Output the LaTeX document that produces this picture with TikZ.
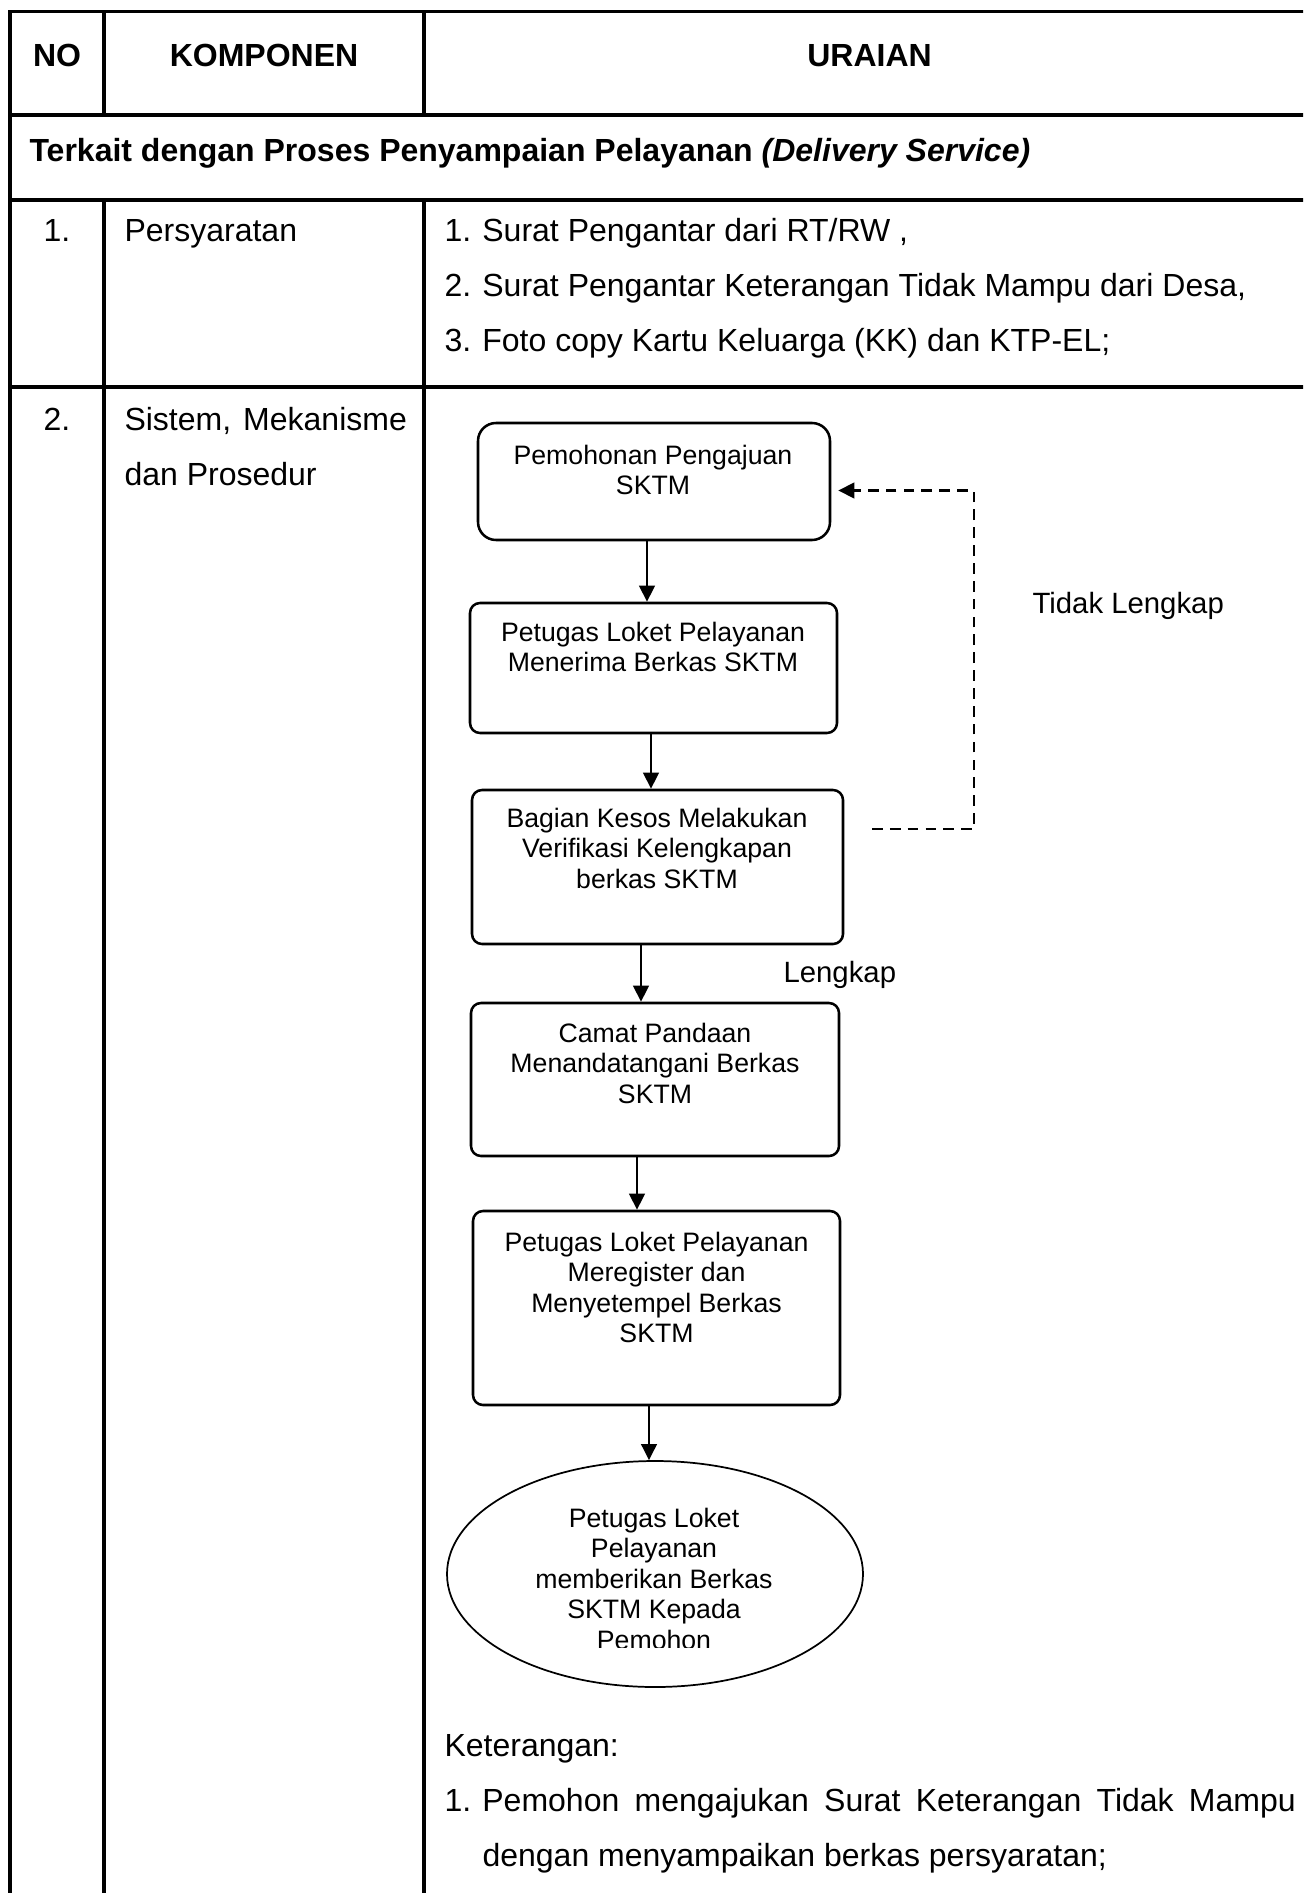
\documentclass[tikz,border=0pt]{standalone}
\usepackage{fontspec}
\setmainfont{Liberation Sans}
\usetikzlibrary{arrows.meta,shapes.geometric,calc}

\begin{document}
\begin{tikzpicture}[x=0.375pt,y=-0.375pt,
  grid/.style={line width=1.15pt},
  body/.style={inner sep=0pt,anchor=base west,font=\fontsize{12}{14}\selectfont},
  bodyc/.style={inner sep=0pt,anchor=base,font=\fontsize{12}{14}\selectfont},
  headtext/.style={inner sep=0pt,anchor=base,font=\fontsize{12}{14}\selectfont\bfseries},
  stepbox/.style={draw,line width=0.95pt,rounded corners=3.75pt,inner sep=0pt},
  endoval/.style={draw,ellipse,line width=0.65pt,inner sep=0pt},
  flowtext/.style={inner sep=0pt,anchor=north,align=center,font=\fontsize{10}{11.45}\selectfont},
  flowlabel/.style={inner sep=0pt,anchor=base west,font=\fontsize{11}{13}\selectfont},
  flow/.style={line width=0.95pt,-{Triangle[length=6pt,width=5.8pt]}},
  feedback/.style={line width=0.95pt,dash pattern=on 4pt off 2.7pt,-{Triangle[length=6pt,width=5.8pt]}}]

% page area
\useasboundingbox (0,0) rectangle (1303,1893);
\fill[white] (0,0) rectangle (1303,1893);
\clip (0,0) rectangle (1303,1893);

% ---- table rules ----
\draw[grid] (10,1900) -- (10,11.7) -- (1320,11.7);
\draw[grid] (10,115) -- (1320,115);
\draw[grid] (10,200) -- (1320,200);
\draw[grid] (10,387) -- (1320,387);
\draw[grid] (1315,11.7) -- (1315,1900);
\draw[grid] (104,11.7) -- (104,115);
\draw[grid] (424,11.7) -- (424,115);
\draw[grid] (104,200) -- (104,1900);
\draw[grid] (424,200) -- (424,1900);

% ---- header ----
\node[headtext] (hno) at (57,67) {NO};
\node[headtext] (hkomp) at (264,67) {KOMPONEN};
\node[headtext] (hurai) at (869.5,67) {URAIAN};
\node[inner sep=0pt,anchor=base west,font=\fontsize{12}{14}\selectfont\bfseries] (section) at (29,162)
  {Terkait dengan Proses Penyampaian Pelayanan \textit{(Delivery Service)}};

% ---- row 1 ----
\node[bodyc] (no1) at (57,242) {1.};
\node[body] (komp1) at (124,242) {Persyaratan};
\node[body] (req1) at (444,242) {\makebox[14.2pt][l]{1.}Surat Pengantar dari RT/RW ,};
\node[body] (req2) at (444,297) {\makebox[14.2pt][l]{2.}Surat Pengantar Keterangan Tidak Mampu dari Desa,};
\node[body] (req3) at (444,352) {\makebox[14.2pt][l]{3.}Foto copy Kartu Keluarga (KK) dan KTP-EL;};

% ---- row 2 ----
\node[bodyc] (no2) at (57,430.5) {2.};
\node[body] (komp2a) at (124,430.5) {Sistem,\hspace{4.5pt}Mekanisme};
\node[body] (komp2b) at (124,485) {dan Prosedur};

% ---- flowchart boxes ----
\node[stepbox,rounded corners=6.75pt,minimum width=132pt,minimum height=43.875pt] (b1) at (654,481.5) {};
\node[stepbox,minimum width=137.625pt,minimum height=48.75pt] (b2) at (653.5,668) {};
\node[stepbox,minimum width=139.125pt,minimum height=57.75pt] (b3) at (657.5,867) {};
\node[stepbox,minimum width=138pt,minimum height=57.375pt] (b4) at (655,1079.5) {};
\node[stepbox,minimum width=137.625pt,minimum height=72.75pt] (b5) at (656.5,1308) {};
\node[endoval,minimum width=156pt,minimum height=84.75pt] (b6) at (655,1574) {};

\node[flowtext] (t1) at (653,444.5) {Pemohonan Pengajuan\\SKTM};
\node[flowtext] (t2) at (653,621.5) {Petugas Loket Pelayanan\\Menerima Berkas SKTM};
\node[flowtext] (t3) at (657,807.5) {Bagian Kesos Melakukan\\Verifikasi Kelengkapan\\berkas SKTM};
\node[flowtext] (t4) at (655,1022.5) {Camat Pandaan\\Menandatangani Berkas\\SKTM};
\node[flowtext] (t5) at (656.5,1231.5) {Petugas Loket Pelayanan\\Meregister dan\\Menyetempel Berkas\\SKTM};
\begin{scope}
  \clip (440,1450) rectangle (870,1647);
  \node[flowtext] (t6) at (654,1507.5) {Petugas Loket\\Pelayanan\\memberikan Berkas\\SKTM Kepada\\Pemohon};
\end{scope}

% ---- connectors ----
\draw[flow] ($(b1.south)+(-7,0)$) -- ($(b2.north)+(-6.5,0)$);
\draw[flow] ($(b2.south)+(-2.5,0)$) -- ($(b3.north)+(-6.5,0)$);
\draw[flow] ($(b3.south)+(-16.5,0)$) -- ($(b4.north)+(-14,0)$);
\draw[flow] ($(b4.south)+(-18,0)$) -- ($(b5.north)+(-19.5,0)$);
\draw[flow] ($(b5.south)+(-7.5,0)$) -- ($(b6.north)+(-6,0)$);

\coordinate (fbstart) at (872,829);
\draw[feedback] (fbstart) -- ++(102,0) |- ($(b1.east)+(7,9)$);

\node[flowlabel] (lblno) at (1032,613) {Tidak Lengkap};
\node[flowlabel] (lblyes) at (783,982) {Lengkap};

% ---- notes ----
\node[body] (ket) at (444,1756.5) {Keterangan:};
\node[body] (ket1) at (444,1811) {\makebox[14.2pt][l]{1.}\makebox[305pt][s]{Pemohon mengajukan Surat Keterangan Tidak Mampu}};
\node[body] (ket2) at (482,1866) {dengan menyampaikan berkas persyaratan;};

\end{tikzpicture}
\end{document}
